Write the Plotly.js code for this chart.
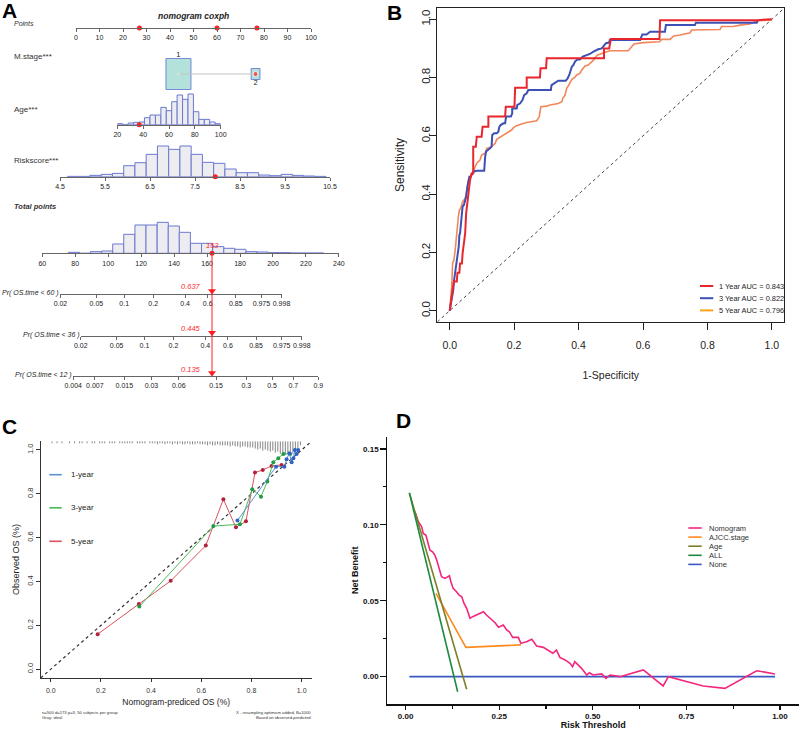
<!DOCTYPE html>
<html><head><meta charset="utf-8">
<script src="https://cdn.plot.ly/plotly-3.0.1.min.js"></script>
<style>html,body{margin:0;padding:0;background:#fff}#chart{width:800px;height:730px}</style>
</head><body><div id="chart"></div>
<script>
// ================= DATA =================
// ---- Panel A : nomogram ----
const pointsTicks = [0,10,20,30,40,50,60,70,80,90,100];
const patientPoints = [27, 60, 77];            // points for Age, Riskscore, M.stage
const mstageLevels = ['1','2'];
const mstagePoints = [43.6, 76.4];
const mstageShare = [0.89, 0.11];
const ageTicks = [20,40,60,80,100];
const ageBinMid = [22.1,26.3,30.5,34.7,38.9,43.1,47.4,51.6,55.8,60.0,64.2,68.4,72.6,76.8,81.0,85.2,89.4,93.6,97.8];
const ageCount  = [3,0,5,7,8,21,29,29,52,42,69,89,76,92,39,16,16,8,3];
const patientAge = 37;
const riskTicks = [4.5,5.5,6.5,7.5,8.5,9.5,10.5];
const riskBinMid = [4.79,5.04,5.29,5.54,5.79,6.04,6.29,6.54,6.79,7.04,7.29,7.54,7.79,8.04,8.29,8.54,8.79,9.04,9.29,9.54,9.79,10.04,10.29];
const riskCount  = [1,1,4,7,10,33,42,67,92,82,92,67,43,40,23,12,12,5,3,7,4,2,1];
const patientRisk = 7.95;
const totalTicks = [60,80,100,120,140,160,180,200,220,240];
const totalBinMid = [79.2,85.9,92.6,99.4,106.1,112.8,119.6,126.3,133.1,139.8,146.5,153.3,160.0,166.8,173.5,180.2,187.0,193.7,200.5,207.2,213.9,220.7,227.4];
const totalCount  = [3,0,5,7,28,57,85,85,93,82,63,30,30,20,15,12,5,4,2,2,1,1,1];
const patientTotal = 163;
const survLabels = ['Pr( OS.time < 60 )','Pr( OS.time < 36 )','Pr( OS.time < 12 )'];
const prTicks60 = ['0.02','0.05','0.1','0.2','0.4','0.6','0.85','0.975','0.998'];
const prTicks36 = ['0.02','0.05','0.1','0.2','0.4','0.6','0.85','0.975','0.998'];
const prTicks12 = ['0.004','0.007','0.015','0.03','0.06','0.15','0.3','0.5','0.7','0.9'];
const prCenter = [162.4, 174.7, 208.0];   // total points where cloglog(P)=0
const prSlope = 23.42;                      // total points per cloglog unit
const patientProb = ['0.637','0.445','0.135'];

// ---- Panel B : ROC ----
const roc1x = [0,0.003,0.006,0.009,0.013,0.022,0.024,0.030,0.032,0.038,0.040,0.044,0.048,0.051,0.055,0.058,0.061,0.063,0.068,0.073,0.073,0.081,0.084,0.099,0.102,0.120,0.120,0.172,0.174,0.201,0.203,0.239,0.239,0.280,0.282,0.299,0.301,0.479,0.479,0.495,0.500,0.651,0.653,0.953,1];
const roc1y = [0,0.019,0.042,0.071,0.100,0.100,0.130,0.130,0.162,0.162,0.197,0.231,0.265,0.334,0.380,0.414,0.431,0.448,0.471,0.471,0.563,0.563,0.597,0.597,0.631,0.631,0.666,0.666,0.700,0.700,0.765,0.765,0.800,0.800,0.832,0.832,0.866,0.866,0.900,0.900,0.932,0.932,0.997,0.997,1];
const roc3x = [0,0.003,0.006,0.011,0.013,0.017,0.020,0.024,0.028,0.030,0.032,0.034,0.037,0.040,0.044,0.048,0.051,0.055,0.058,0.061,0.065,0.068,0.073,0.084,0.107,0.110,0.113,0.125,0.130,0.132,0.138,0.146,0.151,0.154,0.158,0.167,0.172,0.175,0.190,0.194,0.194,0.208,0.210,0.218,0.226,0.231,0.239,0.244,0.314,0.316,0.327,0.337,0.360,0.366,0.371,0.375,0.379,0.384,0.389,0.396,0.404,0.413,0.427,0.435,0.446,0.461,0.472,0.485,0.495,0.497,0.591,0.598,0.611,0.622,0.668,0.671,0.761,0.764,0.953,0.956];
const roc3y = [0,0.019,0.048,0.071,0.100,0.134,0.162,0.197,0.220,0.260,0.265,0.288,0.323,0.357,0.363,0.380,0.391,0.426,0.443,0.460,0.460,0.466,0.477,0.480,0.480,0.528,0.546,0.557,0.563,0.603,0.609,0.609,0.614,0.631,0.637,0.643,0.643,0.666,0.666,0.677,0.694,0.694,0.706,0.711,0.723,0.740,0.746,0.757,0.757,0.774,0.782,0.789,0.789,0.797,0.809,0.820,0.837,0.843,0.855,0.862,0.862,0.872,0.877,0.881,0.889,0.897,0.900,0.918,0.920,0.929,0.929,0.948,0.948,0.957,0.957,0.980,0.980,0.988,0.988,0.995];
const roc5x = [0,0.003,0.006,0.009,0.013,0.017,0.020,0.022,0.024,0.027,0.030,0.034,0.040,0.048,0.053,0.058,0.063,0.071,0.079,0.084,0.094,0.099,0.110,0.115,0.130,0.141,0.146,0.158,0.167,0.177,0.192,0.198,0.206,0.218,0.229,0.239,0.270,0.278,0.283,0.301,0.311,0.327,0.337,0.348,0.351,0.358,0.363,0.368,0.375,0.379,0.389,0.394,0.404,0.410,0.420,0.430,0.446,0.454,0.458,0.472,0.497,0.554,0.565,0.572,0.601,0.651,0.658,0.684,0.695,0.715,0.746,0.751,0.839,0.844,0.880,0.901,0.932,0.942,0.953,0.999];
const roc5y = [0,0.037,0.082,0.162,0.174,0.208,0.243,0.277,0.311,0.323,0.345,0.351,0.374,0.385,0.414,0.448,0.460,0.471,0.494,0.506,0.517,0.534,0.540,0.557,0.563,0.574,0.588,0.597,0.603,0.609,0.620,0.628,0.634,0.639,0.643,0.646,0.652,0.666,0.700,0.702,0.706,0.709,0.711,0.717,0.729,0.740,0.763,0.771,0.786,0.794,0.801,0.809,0.814,0.826,0.840,0.843,0.860,0.872,0.877,0.883,0.892,0.892,0.906,0.915,0.920,0.923,0.931,0.931,0.943,0.946,0.954,0.963,0.965,0.975,0.975,0.980,0.984,0.988,0.995,0.997];
const rocLabels = ['1 Year AUC = 0.843','3 Year AUC = 0.822','5 Year AUC = 0.796'];

// ---- Panel C : calibration ----
const cal1x = [0.744,0.898,0.931,0.940,0.951,0.960,0.967,0.973,0.980,0.986];
const cal1y = [0.678,0.924,0.924,0.958,0.985,0.944,0.962,1.000,0.982,1.000];
const cal3x = [0.353,0.648,0.754,0.803,0.838,0.863,0.887,0.907,0.927,0.954];
const cal3y = [0.286,0.653,0.661,0.821,0.787,0.856,0.944,0.962,0.982,0.982];
const cal5x = [0.187,0.351,0.478,0.618,0.688,0.738,0.778,0.814,0.845,0.880,0.920];
const cal5y = [0.160,0.298,0.403,0.564,0.775,0.647,0.675,0.897,0.909,0.927,0.932];
const calLabels = ['1-year','3-year','5-year'];
// distribution of predicted values (rug at top), counts per 0.01-wide bin from 0 to 1
const rugCount = [1,0,1,0,1,0,0,1,0,1, 0,1,1,0,1,0,1,1,0,1, 1,1,0,1,1,1,0,1,1,1, 1,1,1,0,1,1,1,1,0,1,
                  1,1,2,1,1,2,1,1,2,1, 2,1,2,2,1,2,2,2,1,2, 2,2,3,2,3,3,2,3,3,3, 3,4,3,4,4,5,4,4,5,5,
                  5,6,7,6,8,7,8,9,8,10, 9,11,10,12,10,9,11,8,6,3];

// ---- Panel D : decision curve ----
const dcaNomX = [0.025,0.034,0.043,0.047,0.054,0.061,0.065,0.072,0.078,0.083,0.090,0.096,0.105,0.117,0.121,0.127,0.136,0.143,0.150,0.156,0.163,0.167,0.172,0.179,0.190,0.208,0.216,0.225,0.239,0.248,0.261,0.270,0.277,0.286,0.301,0.308,0.323,0.337,0.350,0.368,0.386,0.393,0.403,0.412,0.426,0.439,0.446,0.452,0.470,0.484,0.491,0.501,0.524,0.535,0.546,0.573,0.635,0.688,0.702,0.795,0.853,0.938,0.987];
const dcaNomY = [0.1086,0.102,0.0987,0.0943,0.0932,0.0877,0.0833,0.0822,0.080,0.0768,0.0702,0.0658,0.0647,0.0664,0.0625,0.0581,0.0559,0.0537,0.0526,0.0482,0.045,0.0417,0.0384,0.0395,0.0406,0.0428,0.0406,0.0384,0.0355,0.0325,0.034,0.0307,0.0296,0.0259,0.0259,0.0219,0.023,0.0246,0.0202,0.0193,0.0164,0.0154,0.0175,0.0127,0.011,0.0088,0.0066,0.0099,0.0055,0.0011,0.0026,0.0011,0.0018,-0.0011,0.0011,0,0.0044,-0.0061,0,-0.0061,-0.0077,0.0039,0.0018];
const dcaStageX = [0.081,0.161,0.308];
const dcaStageY = [0.0549,0.0193,0.0209];
const dcaAgeX = [0.010,0.163];
const dcaAgeY = [0.121,-0.0083];
const dcaAllX = [0.010,0.139];
const dcaAllY = [0.121,-0.0099];
const dcaNoneX = [0.010,0.987];
const dcaNoneY = [0,0];
const dcaLabels = ['Nomogram','AJCC.stage','Age','ALL','None'];

// ================= LAYOUT HELPERS =================
const W = 800, H = 730;
const PX = x => x / W;
const PY = y => 1 - y / H;
const dX = (a, b) => [a / W, b / W];
const dY = (top, bottom) => [1 - bottom / H, 1 - top / H];
const fontR = 'Liberation Sans, Arial, Helvetica, sans-serif';

// nomogram geometry (pixels)
const G = {
  pointsDom: [76, 311], pointsY: [20, 28],
  mstageY: [58, 90],
  ageDom: [117.3, 220.7], ageY: [90, 124.7],
  riskDom: [60, 330], riskY: [140, 176.7],
  totalDom: [42.3, 338.9], totalY: [220, 253.3],
  prY: [[284, 294], [326, 335.7], [366, 376]]
};
const totalRange = [totalTicks[0], totalTicks[totalTicks.length - 1]];
const totalPx = v => G.totalDom[0] + (v - totalRange[0]) / (totalRange[1] - totalRange[0]) * (G.totalDom[1] - G.totalDom[0]);
const cll = p => Math.log(-Math.log(1 - p));
const prToTotal = (p, i) => prCenter[i] + prSlope * cll(p);
const prTickSets = [prTicks60, prTicks36, prTicks12];

const red = '#ff1f1f';
const histFill = '#ececf1', histLine = '#6b79cf';

function nomoAxis(range, domPx, tickvals, ticktext, anchor) {
  return {
    range, domain: dX(domPx[0], domPx[1]), anchor,
    showline: true, linecolor: '#666', linewidth: 1,
    ticks: 'outside', ticklen: 3, tickwidth: 1, tickcolor: '#666',
    tickmode: 'array', tickvals, ticktext: ticktext || tickvals.map(String), tickangle: 0,
    tickfont: { family: fontR, size: 7, color: '#222' },
    showgrid: false, zeroline: false, fixedrange: true
  };
}
function hiddenY(domTopBottom, range, anchor) {
  return { domain: dY(domTopBottom[0], domTopBottom[1]), range, anchor, visible: false, fixedrange: true };
}

const traces = [];
const layout = {
  width: W, height: H, margin: { l: 0, r: 0, t: 0, b: 0 },
  paper_bgcolor: '#ffffff', plot_bgcolor: 'rgba(0,0,0,0)',
  showlegend: false, barmode: 'overlay', bargap: 0,
  font: { family: fontR, color: '#222' },
  annotations: [], shapes: []
};

// ---------- Panel A ----------
layout.xaxis = nomoAxis([0, 100], G.pointsDom, pointsTicks, null, 'y');
layout.yaxis = hiddenY(G.pointsY, [0, 1], 'x');
traces.push({ type: 'scatter', mode: 'markers', x: patientPoints, y: patientPoints.map(() => 0),
  xaxis: 'x', yaxis: 'y', marker: { color: red, size: 5 }, cliponaxis: false, hoverinfo: 'skip' });

layout.xaxis2 = { domain: dX(G.pointsDom[0], G.pointsDom[1]), range: [0, 100], anchor: 'y2', visible: false, fixedrange: true };
layout.yaxis2 = hiddenY(G.mstageY, [0, 1], 'x2');
const boxW = mstageShare.map(s => 11.28 * Math.sqrt(s));
const boxH = mstageShare.map(s => 1.03 * Math.sqrt(s));
traces.push({ type: 'scatter', mode: 'lines', x: mstagePoints, y: [0.5, 0.5], xaxis: 'x2', yaxis: 'y2',
  line: { color: '#c4c4c4', width: 1 }, hoverinfo: 'skip' });
traces.push({ type: 'bar', x: mstagePoints, y: boxH, base: boxH.map(h => 0.5 - h / 2), width: boxW,
  xaxis: 'x2', yaxis: 'y2', marker: { color: '#b2e2d9', line: { color: '#7486d6', width: 1 } }, hoverinfo: 'skip' });
traces.push({ type: 'scatter', mode: 'text', x: mstagePoints, y: [0.5 + boxH[0] / 2, 0.5 - boxH[1] / 2],
  text: mstageLevels, textposition: ['top center', 'bottom center'], xaxis: 'x2', yaxis: 'y2',
  textfont: { family: fontR, size: 7.5, color: '#222' }, cliponaxis: false, hoverinfo: 'skip' });
traces.push({ type: 'scatter', mode: 'markers', x: mstagePoints, y: [0.5, 0.5], xaxis: 'x2', yaxis: 'y2',
  marker: { size: [2, 5], color: ['#999', red] }, cliponaxis: false, hoverinfo: 'skip' });

layout.xaxis3 = nomoAxis([20, 100], G.ageDom, ageTicks, null, 'y3');
layout.yaxis3 = hiddenY(G.ageY, [0, 104], 'x3');
traces.push({ type: 'bar', x: ageBinMid, y: ageCount, width: 4.2, xaxis: 'x3', yaxis: 'y3',
  marker: { color: histFill, line: { color: histLine, width: 1 } }, hoverinfo: 'skip' });
traces.push({ type: 'scatter', mode: 'markers', x: [patientAge], y: [0], xaxis: 'x3', yaxis: 'y3',
  marker: { color: red, size: 5 }, cliponaxis: false, hoverinfo: 'skip' });

layout.xaxis4 = nomoAxis([4.5, 10.5], G.riskDom, riskTicks, riskTicks.map(v => v.toFixed(1)), 'y4');
layout.yaxis4 = hiddenY(G.riskY, [0, 110], 'x4');
traces.push({ type: 'bar', x: riskBinMid, y: riskCount, width: 0.25, xaxis: 'x4', yaxis: 'y4',
  marker: { color: histFill, line: { color: histLine, width: 1 } }, hoverinfo: 'skip' });
traces.push({ type: 'scatter', mode: 'markers', x: [patientRisk], y: [0], xaxis: 'x4', yaxis: 'y4',
  marker: { color: red, size: 5 }, cliponaxis: false, hoverinfo: 'skip' });

layout.xaxis5 = nomoAxis(totalRange, G.totalDom, totalTicks, null, 'y5');
layout.yaxis5 = hiddenY(G.totalY, [0, 100], 'x5');
traces.push({ type: 'bar', x: totalBinMid, y: totalCount, width: 6.74, xaxis: 'x5', yaxis: 'y5',
  marker: { color: histFill, line: { color: histLine, width: 1 } }, hoverinfo: 'skip' });
traces.push({ type: 'scatter', mode: 'markers', x: [patientTotal], y: [0], xaxis: 'x5', yaxis: 'y5',
  marker: { color: red, size: 5 }, cliponaxis: false, hoverinfo: 'skip' });
layout.annotations.push({ xref: 'x5', yref: 'y5', x: patientTotal, y: 0, yanchor: 'bottom', xanchor: 'center',
  yshift: 1, showarrow: false, text: '<i>' + patientTotal + '</i>', font: { family: fontR, size: 7.5, color: red } });

prTickSets.forEach((labels, i) => {
  const n = 6 + i;
  const vals = labels.map(s => prToTotal(parseFloat(s), i));
  const r = [vals[0], vals[vals.length - 1]];
  const dom = [totalPx(r[0]), totalPx(r[1])];
  layout['xaxis' + n] = nomoAxis(r, dom, vals, labels, 'y' + n);
  layout['yaxis' + n] = hiddenY(G.prY[i], [0, 1], 'x' + n);
  traces.push({ type: 'scatter', mode: 'markers', x: [patientTotal], y: [0.3], xaxis: 'x' + n, yaxis: 'y' + n,
    marker: { symbol: 'triangle-down', color: red, size: 7 }, cliponaxis: false, hoverinfo: 'skip' });
  layout.annotations.push({ xref: 'x' + n, yref: 'y' + n, x: patientTotal, y: 0.7, xanchor: 'right', yanchor: 'middle',
    xshift: -9, showarrow: false, text: '<i>' + patientProb[i] + '</i>', font: { family: fontR, size: 7.5, color: red } });
  layout.annotations.push({ xref: 'paper', yref: 'paper', x: PX(dom[0] + 1), y: PY(G.prY[i][1] - 1), xanchor: 'right', yanchor: 'middle',
    showarrow: false, text: '<i>' + survLabels[i] + '</i>', font: { family: fontR, size: 7, color: '#222' } });
});
layout.shapes.push({ type: 'line', xref: 'x5', yref: 'paper', x0: patientTotal, x1: patientTotal,
  y0: PY(G.totalY[1]), y1: PY(G.prY[2][1]), line: { color: red, width: 1 } });

[['<i>Points</i>', 24, 7], ['M.stage***', 57, 8], ['Age***', 109, 8], ['Riskscore***', 160, 8], ['<b><i>Total points</i></b>', 206, 7.5]]
  .forEach(([t, y, s]) => layout.annotations.push({ xref: 'paper', yref: 'paper', x: PX(12), y: PY(y), xanchor: 'left', yanchor: 'middle',
    showarrow: false, text: t, font: { family: fontR, size: s, color: '#333' } }));
layout.annotations.push({ xref: 'paper', yref: 'paper', x: PX(193), y: PY(16), xanchor: 'center', yanchor: 'middle', showarrow: false,
  text: '<b><i>nomogram coxph</i></b>', font: { family: fontR, size: 8.5, color: '#222' } });

// ---------- Panel B : ROC ----------
const rocColors = ['#e8262c', '#3d50b5', '#f2875c'];
const rocLegendColors = ['#e8262c', '#3d50b5', '#ffa31a'];
const bx = [-0.0385, 1.0385], by = [-0.0377, 1.0377];
layout.xaxis9 = { domain: dX(437.3, 784.3), range: bx, anchor: 'y9', showline: true, mirror: true, linecolor: '#222', linewidth: 1,
  ticks: 'outside', ticklen: 7, tickcolor: '#222', tickmode: 'array', tickvals: [0, 0.2, 0.4, 0.6, 0.8, 1], ticktext: ['0.0','0.2','0.4','0.6','0.8','1.0'],
  ticklabelstandoff: 7,
  tickfont: { family: fontR, size: 10.5, color: '#222' }, showgrid: false, zeroline: false, fixedrange: true,
  title: { text: '1-Specificity', font: { family: fontR, size: 10.5, color: '#222' }, standoff: 21 } };
layout.yaxis9 = { domain: dY(8.3, 321.7), range: by, anchor: 'x9', showline: true, mirror: true, linecolor: '#222', linewidth: 1,
  ticks: 'outside', ticklen: 7, tickcolor: '#222', tickmode: 'array', tickvals: [0, 0.2, 0.4, 0.6, 0.8, 1], ticktext: ['0.0','0.2','0.4','0.6','0.8','1.0'],
  tickangle: -90, ticklabelstandoff: -5, tickfont: { family: fontR, size: 11.5, color: '#222' }, showgrid: false, zeroline: false, fixedrange: true,
  title: { text: 'Sensitivity', font: { family: fontR, size: 12, color: '#222' }, standoff: 12 } };
traces.push({ type: 'scatter', mode: 'lines', x: bx, y: bx, xaxis: 'x9', yaxis: 'y9', line: { color: '#444', width: 1, dash: 'dot' }, hoverinfo: 'skip' });
[[roc5x, roc5y, 2], [roc3x, roc3y, 1], [roc1x, roc1y, 0]].forEach(([x, y, k]) =>
  traces.push({ type: 'scatter', mode: 'lines', x, y, xaxis: 'x9', yaxis: 'y9', name: rocLabels[k],
    line: { color: rocColors[k], width: k === 2 ? 1.6 : 2 }, hoverinfo: 'skip' }));
rocLabels.forEach((t, k) => {
  const y = 286 + k * 12.2;
  layout.shapes.push({ type: 'line', xref: 'paper', yref: 'paper', x0: PX(700), x1: PX(713.3), y0: PY(y), y1: PY(y), line: { color: rocLegendColors[k], width: 2 } });
  layout.annotations.push({ xref: 'paper', yref: 'paper', x: PX(717), y: PY(y), xanchor: 'left', yanchor: 'middle', showarrow: false,
    text: t, font: { family: fontR, size: 7.4, color: '#222' } });
});

// ---------- Panel C : calibration ----------
const cr = [-0.04, 1.04];
const calTick = [0, 0.2, 0.4, 0.6, 0.8, 1];
const calTickTxt = ['0.0','0.2','0.4','0.6','0.8','1.0'];
layout.xaxis10 = { domain: dX(40.7, 311.7), range: cr, anchor: 'y10', showline: true, linecolor: '#333', linewidth: 1,
  ticks: 'outside', ticklen: 3.3, tickcolor: '#333', tickmode: 'array', tickvals: calTick, ticktext: calTickTxt, ticklabelstandoff: 2,
  tickfont: { family: fontR, size: 7, color: '#333' }, showgrid: false, zeroline: false, fixedrange: true,
  title: { text: 'Nomogram-prediced OS (%)', font: { family: fontR, size: 8.5, color: '#222' }, standoff: 6 } };
layout.yaxis10 = { domain: dY(441.2, 678), range: cr, anchor: 'x10', showline: true, linecolor: '#333', linewidth: 1,
  ticks: 'outside', ticklen: 3.3, tickcolor: '#333', tickmode: 'array', tickvals: calTick, ticktext: calTickTxt, tickangle: -90,
  tickfont: { family: fontR, size: 7.5, color: '#333' }, showgrid: false, zeroline: false, fixedrange: true,
  title: { text: 'Observed OS (%)', font: { family: fontR, size: 9, color: '#222' }, standoff: 5 } };
const rugX = [], rugY = [];
rugCount.forEach((c, i) => {
  if (c > 0) {
    const x = 0.005 + i * 0.01;
    const len = (1 + c * 1.05) / 219.3;
    rugX.push(x, x, null); rugY.push(cr[1], cr[1] - len, null);
  }
});
traces.push({ type: 'scatter', mode: 'lines', x: rugX, y: rugY, xaxis: 'x10', yaxis: 'y10', line: { color: '#666', width: 0.8 }, hoverinfo: 'skip' });
traces.push({ type: 'scatter', mode: 'lines', x: cr, y: cr, xaxis: 'x10', yaxis: 'y10', line: { color: '#333', width: 1.2, dash: 'dot' }, hoverinfo: 'skip' });
const calLine = ['#5b93d3', '#49b857', '#d9535f'];
const calMark = ['#2f62c4', '#1f9b45', '#b3203c'];
[[cal5x, cal5y, 2], [cal3x, cal3y, 1], [cal1x, cal1y, 0]].forEach(([x, y, k]) =>
  traces.push({ type: 'scatter', mode: 'lines+markers', x, y, xaxis: 'x10', yaxis: 'y10', name: calLabels[k],
    line: { color: calLine[k], width: 1 }, marker: { color: calMark[k], size: 4 }, hoverinfo: 'skip' }));
calLabels.forEach((t, k) => {
  const y = [474.7, 507.8, 541.3][k];
  layout.shapes.push({ type: 'line', xref: 'paper', yref: 'paper', x0: PX(49.3), x1: PX(61.7), y0: PY(y), y1: PY(y), line: { color: calLine[k], width: 1.6 } });
  layout.annotations.push({ xref: 'paper', yref: 'paper', x: PX(68.5), y: PY(y), xanchor: 'left', yanchor: 'middle', showarrow: false,
    text: t, font: { family: fontR, size: 8, color: '#222' } });
});
layout.annotations.push({ xref: 'paper', yref: 'paper', x: PX(40), y: PY(708), xanchor: 'left', yanchor: 'top', align: 'left', showarrow: false,
  text: 'n=500 d=173 p=3, 50 subjects per group<br>Gray: ideal', font: { family: fontR, size: 4.2, color: '#333' } });
layout.annotations.push({ xref: 'paper', yref: 'paper', x: PX(312.5), y: PY(708), xanchor: 'right', yanchor: 'top', align: 'right', showarrow: false,
  text: 'X - resampling optimism added, B=1000<br>Based on observed-predicted', font: { family: fontR, size: 4.2, color: '#333' } });

// ---------- Panel D : decision curve ----------
layout.xaxis11 = { domain: dX(387.3, 799), range: [-0.049, 1.051], anchor: 'y11', showline: true, linecolor: '#111', linewidth: 1.5,
  ticks: 'outside', ticklen: 4, tickwidth: 1.3, tickcolor: '#111', tickmode: 'linear', tick0: 0, dtick: 0.25, tickformat: '.2f',
  minor: { ticks: 'outside', ticklen: 3, tickwidth: 1.2, tickcolor: '#111', tick0: 0, dtick: 0.125, showgrid: false },
  tickfont: { family: fontR, size: 8, color: '#111', weight: 'bold' }, showgrid: false, zeroline: false, fixedrange: true,
  title: { text: 'Risk Threshold', font: { family: fontR, size: 9, color: '#111', weight: 'bold' }, standoff: 3 } };
layout.yaxis11 = { domain: dY(436.7, 704), range: [-0.018, 0.158], anchor: 'x11', showline: true, linecolor: '#111', linewidth: 1.5,
  ticks: 'outside', ticklen: 5.5, tickwidth: 1.3, tickcolor: '#111', tickmode: 'linear', tick0: 0, dtick: 0.05, tickformat: '.2f',
  minor: { ticks: 'outside', ticklen: 3, tickwidth: 1.2, tickcolor: '#111', tick0: 0, dtick: 0.025, showgrid: false },
  tickfont: { family: fontR, size: 8, color: '#111', weight: 'bold' }, showgrid: false, zeroline: false, fixedrange: true,
  title: { text: 'Net Benefit', font: { family: fontR, size: 9, color: '#111', weight: 'bold' }, standoff: 3 } };
const dcaColors = ['#f2277c', '#ff8a1f', '#7d7f24', '#1c8a3e', '#3a58c0'];
[[dcaNoneX, dcaNoneY, 4], [dcaStageX, dcaStageY, 1], [dcaNomX, dcaNomY, 0], [dcaAgeX, dcaAgeY, 2], [dcaAllX, dcaAllY, 3]].forEach(([x, y, k]) =>
  traces.push({ type: 'scatter', mode: 'lines', x, y, xaxis: 'x11', yaxis: 'y11', name: dcaLabels[k],
    line: { color: dcaColors[k], width: 1.6 }, hoverinfo: 'skip' }));
dcaLabels.forEach((t, k) => {
  const y = 528 + k * 9.1;
  layout.shapes.push({ type: 'line', xref: 'paper', yref: 'paper', x0: PX(688.3), x1: PX(701.7), y0: PY(y), y1: PY(y), line: { color: dcaColors[k], width: 1.6 } });
  layout.annotations.push({ xref: 'paper', yref: 'paper', x: PX(706.5), y: PY(y), xanchor: 'left', yanchor: 'middle', showarrow: false,
    text: t, font: { family: fontR, size: 7.5, color: '#333' } });
});

// ---------- Panel letters ----------
[['A', 9, 11], ['B', 394, 12], ['C', 9, 426], ['D', 403, 420]].forEach(([t, x, y]) =>
  layout.annotations.push({ xref: 'paper', yref: 'paper', x: PX(x), y: PY(y), xanchor: 'center', yanchor: 'middle', showarrow: false,
    text: '<b>' + t + '</b>', font: { family: fontR, size: 21, color: '#000' } }));

Plotly.newPlot('chart', traces, layout, { displayModeBar: false, staticPlot: true });
</script>
</body></html>
